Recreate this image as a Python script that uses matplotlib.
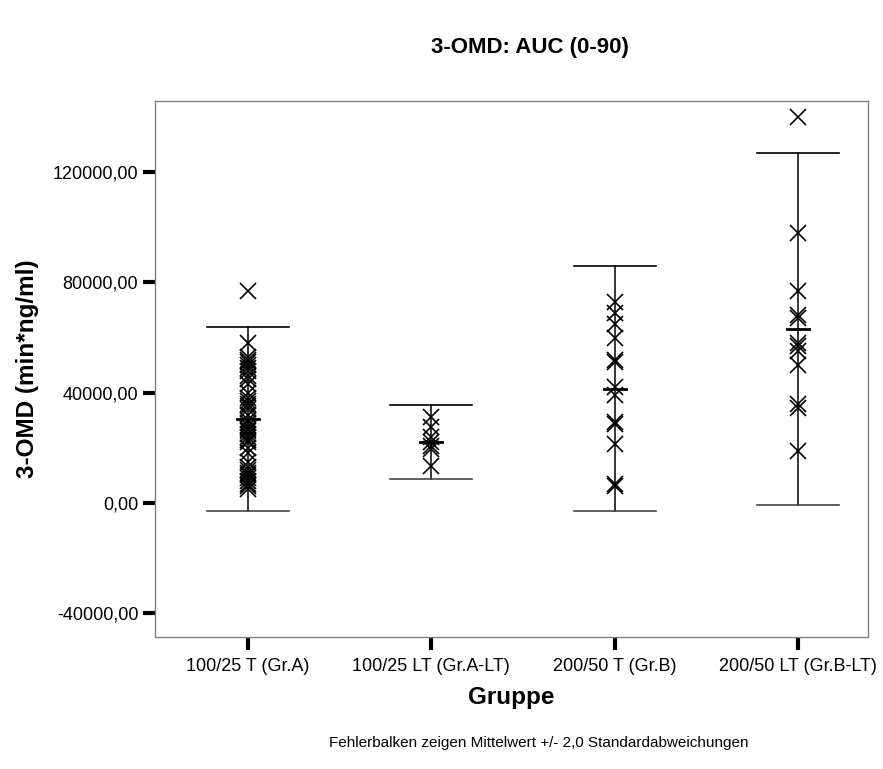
import matplotlib
matplotlib.use('Agg')
import matplotlib.pyplot as plt
from matplotlib.ticker import FuncFormatter

plt.rcParams['font.family'] = ['Liberation Sans', 'DejaVu Sans']

groups = ['100/25 T (Gr.A)', '100/25 LT (Gr.A-LT)', '200/50 T (Gr.B)', '200/50 LT (Gr.B-LT)']

auc_a = [77000, 58000, 53000, 52000, 51000, 50000, 49000, 48000, 46000, 45000,
         43000, 40000, 38000, 37000, 36000, 35000, 34000, 32000, 30000, 29000,
         28000, 27000, 26000, 25000, 24000, 23000, 22000, 20000, 18000, 15000,
         13000, 12000, 11000, 10000, 9000, 8000, 7000, 6000, 5000]
auc_a_lt = [31000, 27500, 24000, 22000, 20500, 19500, 13500]
auc_b = [73000, 69000, 65000, 60000, 52000, 51000, 42000, 39000, 29500, 28500,
         21500, 7000, 6000]
auc_b_lt = [140000, 98000, 77000, 68000, 67000, 58000, 57000, 55000, 50000,
            36000, 34500, 19000]

# mean and sd
means = [30500, 22100, 41500, 63100]
sds = [16700, 6700, 22200, 32000]

data = [auc_a, auc_a_lt, auc_b, auc_b_lt]

fig = plt.figure(figsize=(8.83, 7.69), dpi=100)
ax = fig.add_axes([0.1755, 0.1717, 0.983 - 0.1755, 0.8687 - 0.1717])

cap = 0.224
mtick = 0.06
for i, vals in enumerate(data):
    lo = means[i] - 2 * sds[i]
    hi = means[i] + 2 * sds[i]
    ax.plot([i, i], [lo, hi], color='black', lw=1.1, zorder=2)
    ax.plot([i - cap, i + cap], [hi, hi], color='black', lw=1.2, zorder=2)
    ax.plot([i - cap, i + cap], [lo, lo], color='#444444', lw=1.2, zorder=2)
    ax.plot([i - mtick, i + mtick], [means[i], means[i]], color='black', lw=2, zorder=3)
    ax.plot([i] * len(vals), vals, linestyle='none', marker='x', ms=11, mew=1.2,
            color='black', zorder=4)

ax.set_xlim(-0.507, 3.382)
ax.set_ylim(-48600, 145800)
ax.set_xticks(range(4))
ax.set_xticklabels(groups, fontsize=13)
ax.set_yticks([-40000, 0, 40000, 80000, 120000])
ax.yaxis.set_major_formatter(FuncFormatter(lambda v, p: f'{v:.2f}'.replace('.', ',')))
ax.tick_params(axis='y', labelsize=13, length=9, width=3, pad=3)
ax.tick_params(axis='x', length=9, width=3, pad=6)
for s in ax.spines.values():
    s.set_color('#808080')
    s.set_linewidth(1)

ax.set_ylabel('3-OMD (min*ng/ml)', fontsize=17.5, fontweight='bold', labelpad=10)
ax.set_xlabel('Gruppe', fontsize=17.5, fontweight='bold', labelpad=8)

fig.text(530 / 883, 1 - 47 / 769, '3-OMD: AUC (0-90)', fontsize=16, fontweight='bold',
         ha='center', va='center')
fig.text(539 / 883, 1 - 743 / 769, 'Fehlerbalken zeigen Mittelwert +/- 2,0 Standardabweichungen',
         fontsize=11, ha='center', va='center')

fig.savefig('out.png', dpi=100)
